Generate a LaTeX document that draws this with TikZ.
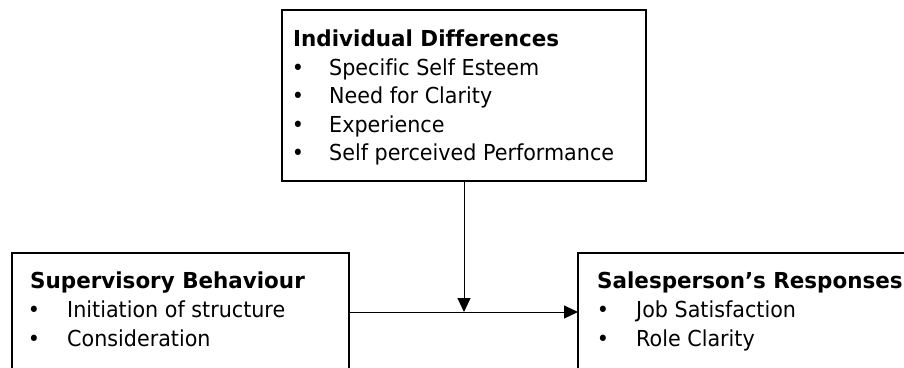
\documentclass[tikz,border=0pt]{standalone}
\usepackage{fontspec}
\setmainfont{DejaVu Sans}[FakeStretch=0.94, Ligatures=NoCommon, BoldFeatures={FakeStretch=0.975}]
\usetikzlibrary{arrows.meta}
\tikzset{
  box/.style={draw=black, line width=2pt, inner sep=0pt, outer sep=0pt, anchor=north west},
  txt/.style={inner sep=0pt, anchor=base west, font=\fontsize{22}{28}\selectfont},
  ttl/.style={txt, font=\fontsize{22}{28}\selectfont\bfseries},
  bul/.style={inner sep=0pt, anchor=base, font=\fontsize{22}{28}\selectfont},
  conn/.style={line width=1pt, -{Triangle[length=14pt,width=13pt]}}
}
\begin{document}
\begin{tikzpicture}[x=1pt,y=-1pt]
\useasboundingbox (0,0) rectangle (904,367);
\clip (0,0) rectangle (904,367);
% boxes
\node[box, minimum width=364pt, minimum height=171pt] (top) at (282,10) {};
\node[box, minimum width=337pt, minimum height=160pt] (left) at (12,253) {};
\node[box, minimum width=360pt, minimum height=160pt] (right) at (578,253) {};
% top box text
\node[ttl] (t0) at (293,46) {Individual Differences};
\node[bul] (tb1) at (298,75) {•};
\node[txt] (t1) at (329,75) {Specific Self Esteem};
\node[bul] (tb2) at (298,103.5) {•};
\node[txt] (t2) at (329,103.5) {Need for Clarity};
\node[bul] (tb3) at (298,132) {•};
\node[txt] (t3) at (329,132) {Experience};
\node[bul] (tb4) at (298,160.5) {•};
\node[txt] (t4) at (329,160.5) {Self perceived Performance};
% left box text
\node[ttl] (l0) at (30,288) {Supervisory Behaviour};
\node[bul] (lb1) at (34,317) {•};
\node[txt] (l1) at (67,317) {Initiation of structure};
\node[bul] (lb2) at (34,346) {•};
\node[txt] (l2) at (67,346) {Consideration};
% right box text
\node[ttl] (r0) at (597,288) {Salesperson’s Responses};
\node[bul] (rb1) at (603,317) {•};
\node[txt] (r1) at (636,317) {Job Satisfaction};
\node[bul] (rb2) at (603,346) {•};
\node[txt] (r2) at (636,346) {Role Clarity};
% connectors
\coordinate (mid) at (top.south |- 0,312);
\draw[conn] (left.east |- mid) -- (right.west |- mid);
\draw[conn] (top.south) -- (mid);
\end{tikzpicture}
\end{document}
